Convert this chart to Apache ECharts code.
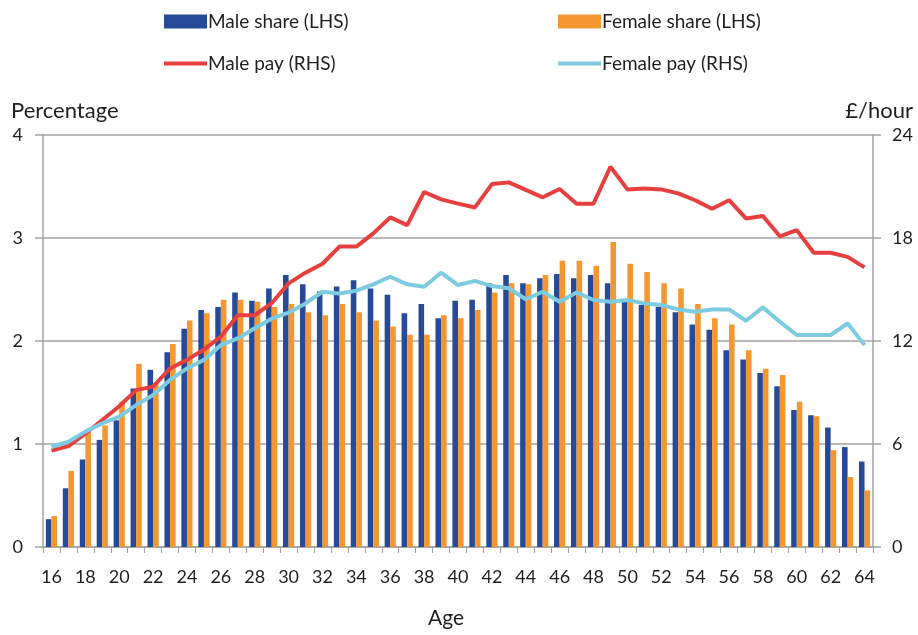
<!DOCTYPE html>
<html>
<head>
<meta charset="utf-8">
<script src="https://cdn.jsdelivr.net/npm/echarts@6/dist/echarts.min.js"></script>
<style>
  html, body { margin: 0; padding: 0; background: #fff; }
  #chart { width: 918px; height: 635px; }
</style>
</head>
<body>
<div id="chart"></div>
<script>
// ages on the x axis
const ages = [];
for (let a = 16; a <= 64; a++) ages.push(String(a));

// share of employees at each age, % (LHS)
const maleShare = [
  0.27, 0.57, 0.85, 1.04, 1.23, 1.54, 1.72, 1.89, 2.12, 2.30,
  2.33, 2.47, 2.39, 2.51, 2.64, 2.55, 2.48, 2.53, 2.59, 2.51,
  2.45, 2.27, 2.36, 2.22, 2.39, 2.40, 2.56, 2.64, 2.56, 2.61,
  2.65, 2.61, 2.64, 2.56, 2.39, 2.35, 2.33, 2.28, 2.16, 2.11,
  1.91, 1.82, 1.69, 1.56, 1.33, 1.28, 1.16, 0.97, 0.83
];
const femaleShare = [
  0.30, 0.74, 1.12, 1.18, 1.41, 1.78, 1.58, 1.97, 2.20, 2.27,
  2.40, 2.40, 2.38, 2.33, 2.36, 2.28, 2.25, 2.36, 2.28, 2.20,
  2.14, 2.06, 2.06, 2.25, 2.22, 2.30, 2.47, 2.56, 2.55, 2.64,
  2.78, 2.78, 2.73, 2.96, 2.75, 2.67, 2.56, 2.51, 2.36, 2.22,
  2.16, 1.91, 1.73, 1.67, 1.41, 1.27, 0.94, 0.68, 0.55
];

// hourly pay, £ (RHS)
const malePay = [
  5.61, 5.88, 6.6, 7.4, 8.2, 9.14, 9.34, 10.4, 10.9, 11.5,
  12.25, 13.5, 13.5, 14.2, 15.36, 15.98, 16.5, 17.5, 17.5, 18.27,
  19.2, 18.75, 20.68, 20.25, 20.0, 19.78, 21.14, 21.24, 20.8, 20.37,
  20.85, 20.0, 20.0, 22.15, 20.83, 20.89, 20.83, 20.6, 20.2, 19.7,
  20.2, 19.14, 19.28, 18.1, 18.46, 17.14, 17.14, 16.9, 16.29
];
const femalePay = [
  5.84, 6.13, 6.72, 7.2, 7.59, 8.27, 8.85, 9.73, 10.4, 10.9,
  11.76, 12.15, 12.74, 13.3, 13.65, 14.19, 14.87, 14.77, 14.93, 15.3,
  15.74, 15.3, 15.16, 15.98, 15.26, 15.5, 15.2, 15.07, 14.43, 14.87,
  14.29, 14.83, 14.39, 14.29, 14.39, 14.19, 14.1, 13.84, 13.7, 13.84,
  13.84, 13.18, 13.96, 13.12, 12.35, 12.35, 12.35, 13.03, 11.76
];

const FONT = 'Lato';
const TEXT = '#1f1f1f';
const GRID = '#a3a3a3';

const chart = echarts.init(document.getElementById('chart'));

// one legend per item so they sit in a 2x2 block
function legendItem(name, left, top, isLine) {
  return {
    data: [name],
    left: left,
    top: top,
    icon: 'rect',
    itemWidth: 43,
    itemHeight: isLine ? 4 : 14,
    itemGap: 0,
    textStyle: { fontFamily: FONT, fontSize: 19, color: TEXT, padding: [0, 0, 0, -4] },
    selectedMode: false
  };
}

const option = {
  animation: false,
  backgroundColor: '#fff',
  legend: [
    legendItem('Male share (LHS)', 159, 7, false),
    legendItem('Female share (LHS)', 553, 7, false),
    legendItem('Male pay (RHS)', 159, 49, true),
    legendItem('Female pay (RHS)', 553, 49, true)
  ],
  title: [
    { text: 'Percentage', left: 6, top: 95, textStyle: { fontFamily: FONT, fontSize: 22, fontWeight: 'normal', color: TEXT } },
    { text: '£/hour', right: 0, top: 95, textStyle: { fontFamily: FONT, fontSize: 22, fontWeight: 'normal', color: TEXT } }
  ],
  grid: { left: 43, right: 45, top: 135, bottom: 88 },
  xAxis: {
    type: 'category',
    data: ages,
    name: 'Age',
    nameLocation: 'middle',
    nameGap: 61,
    nameTextStyle: { fontFamily: FONT, fontSize: 21, color: TEXT, padding: [0, 24, 0, 0] },
    axisLine: { lineStyle: { color: GRID, width: 1.5 } },
    axisTick: { show: true, interval: 0, length: 6, lineStyle: { color: GRID, width: 1 } },
    axisLabel: { interval: 1, margin: 21, fontFamily: FONT, fontSize: 18, color: TEXT }
  },
  yAxis: [
    {
      type: 'value',
      min: 0, max: 4, interval: 1,
      axisLine: { show: true, lineStyle: { color: GRID, width: 1.5 } },
      axisTick: { show: true, length: 8, lineStyle: { color: GRID, width: 1.5 } },
      splitLine: { lineStyle: { color: GRID, width: 1.5 } },
      axisLabel: { margin: 20, fontFamily: FONT, fontSize: 18, color: TEXT }
    },
    {
      type: 'value',
      min: 0, max: 24, interval: 6,
      axisLine: { show: true, lineStyle: { color: GRID, width: 1.5 } },
      axisTick: { show: true, length: 8, lineStyle: { color: GRID, width: 1.5 } },
      splitLine: { show: false },
      axisLabel: { margin: 19, fontFamily: FONT, fontSize: 18, color: TEXT }
    }
  ],
  series: [
    {
      name: 'Male share (LHS)',
      type: 'bar',
      data: maleShare,
      itemStyle: { color: '#274a98' },
      barGap: '0%',
      barCategoryGap: '34%'
    },
    {
      name: 'Female share (LHS)',
      type: 'bar',
      data: femaleShare,
      itemStyle: { color: '#f59730' }
    },
    {
      name: 'Male pay (RHS)',
      type: 'line',
      yAxisIndex: 1,
      data: malePay,
      symbol: 'none',
      lineStyle: { color: '#e5403f', width: 4 },
      itemStyle: { color: '#e5403f' }
    },
    {
      name: 'Female pay (RHS)',
      type: 'line',
      yAxisIndex: 1,
      data: femalePay,
      symbol: 'none',
      lineStyle: { color: '#7ccbe1', width: 4 },
      itemStyle: { color: '#7ccbe1' }
    }
  ]
};

chart.setOption(option);
</script>
</body>
</html>
